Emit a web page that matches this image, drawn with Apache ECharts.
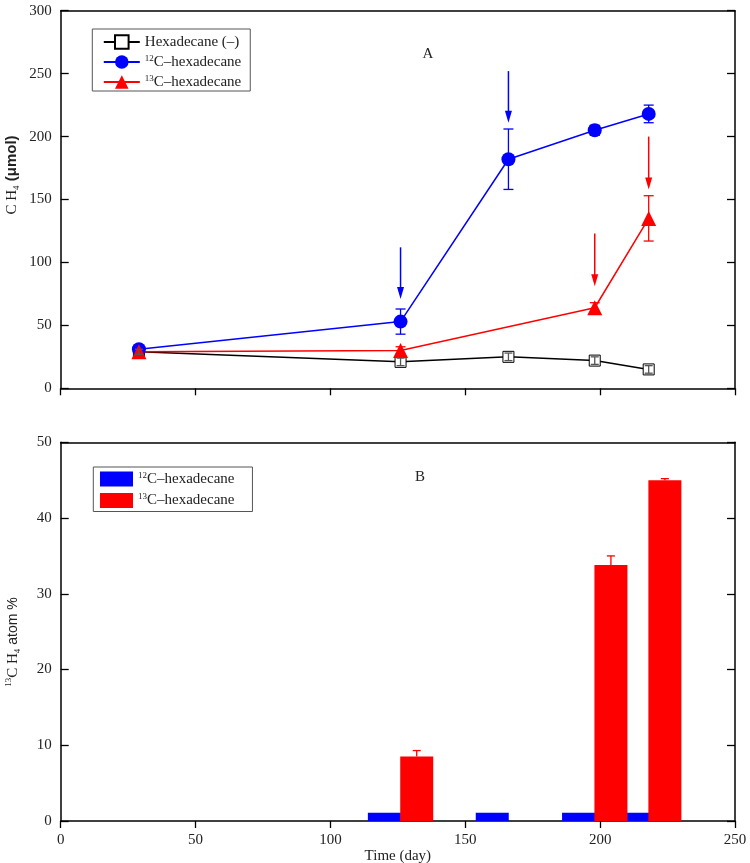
<!DOCTYPE html>
<html><head><meta charset="utf-8">
<script src="https://cdn.jsdelivr.net/npm/echarts@6/dist/echarts.min.js"></script>
<style>html,body{margin:0;padding:0;background:#fff}#c{width:750px;height:863px}</style>
</head><body><div id="c"></div>
<script>
// ---------- data (panel A) ----------
const daysA = [29, 126, 166, 198, 218];
const hexNeg = [29, 21, 25, 22, 15];
const hexNegErr = [2, 3, 3, 3, 3];
const c12 = [31, 53, 182, 205, 218];
const c12Err = [2, 10, 24, 4, 7];
const daysC13 = [29, 126, 198, 218];
const c13 = [29, 30, 64, 135];
const c13Err = [2, 3, 4, 18];
// arrows: [day, start value, end value]
const arrowsBlue = [[126, 112, 71], [166, 252, 211]];
const arrowsRed = [[198, 123, 81], [218, 200, 158]];
// ---------- data (panel B) ----------
const bar12Days = [120, 160, 192, 212];
const bar12 = [1.1, 1.1, 1.1, 1.1];
const bar13Days = [132, 204, 224];
const bar13 = [8.5, 33.8, 45.0];
const bar13Err = [0.8, 1.2, 0.2];
// ticks
const xTicks = {min: 0, max: 250, interval: 50};
const yTicksA = {min: 0, max: 300, interval: 50};
const yTicksB = {min: 0, max: 50, interval: 10};

const SERIF = 'Liberation Serif';
const SANS = 'Liberation Sans';
const BLUE = '#0000ff', RED = '#ff0000', BLACK = '#000000';

function errRender(color, cap, topOnly) {
  return function (params, api) {
    const x = api.value(0), lo = api.value(1), hi = api.value(2);
    const p1 = api.coord([x, lo]), p2 = api.coord([x, hi]);
    const st = {stroke: color, lineWidth: 1.3};
    const ch = [
      {type: 'line', shape: {x1: p1[0], y1: p1[1], x2: p2[0], y2: p2[1]}, style: st},
      {type: 'line', shape: {x1: p2[0] - cap, y1: p2[1], x2: p2[0] + cap, y2: p2[1]}, style: st}
    ];
    if (!topOnly) ch.push({type: 'line', shape: {x1: p1[0] - cap, y1: p1[1], x2: p1[0] + cap, y2: p1[1]}, style: st});
    return {type: 'group', children: ch};
  };
}
function arrowRender(color) {
  return function (params, api) {
    const x = api.value(0);
    const a = api.coord([x, api.value(1)]), b = api.coord([x, api.value(2)]);
    const head = 12, hw = 3.5;
    return {type: 'group', children: [
      {type: 'line', shape: {x1: a[0], y1: a[1], x2: b[0], y2: b[1] - head + 1}, style: {stroke: color, lineWidth: 1.5}},
      {type: 'polygon', shape: {points: [[b[0] - hw, b[1] - head], [b[0] + hw, b[1] - head], [b[0], b[1]]]}, style: {fill: color}}
    ]};
  };
}

const axisLineStyle = {color: '#000', width: 1.5};
function xAxisDef(grid, showLabel, extra) {
  return Object.assign({
    type: 'value', gridIndex: grid, min: xTicks.min, max: xTicks.max, interval: xTicks.interval,
    axisLine: {show: true, onZero: false, lineStyle: axisLineStyle},
    axisTick: {show: true, inside: false, length: 7, lineStyle: {color: '#000', width: 1.3}},
    axisLabel: {show: showLabel, margin: 12, color: '#222', fontFamily: SERIF, fontSize: 15},
    splitLine: {show: false}
  }, extra || {});
}
function yAxisDef(grid, t, pos, showLabel) {
  return {
    type: 'value', gridIndex: grid, position: pos, min: t.min, max: t.max, interval: t.interval,
    axisLine: {show: true, onZero: false, lineStyle: axisLineStyle},
    axisTick: {show: true, inside: true, length: 8, lineStyle: {color: '#000', width: 1.3}},
    axisLabel: {show: showLabel, margin: 9, color: '#222', fontFamily: SERIF, fontSize: 15},
    splitLine: {show: false}
  };
}

const legendText = {
  'Hexadecane (-)': 'Hexadecane (–)',
  'c12': '{sup|12}C–hexadecane',
  'c13': '{sup|13}C–hexadecane',
  'bar12': '{sup|12}C–hexadecane',
  'bar13': '{sup|13}C–hexadecane'
};
const legendTextStyle = {
  color: '#222', fontFamily: SERIF, fontSize: 15, lineHeight: 16,
  rich: {sup: {fontFamily: SERIF, fontSize: 9, verticalAlign: 'top', lineHeight: 16, color: '#222'}}
};

const chart = echarts.init(document.getElementById('c'), null, {renderer: 'canvas'});
chart.setOption({
  animation: false,
  backgroundColor: '#fff',
  grid: [
    {left: 60.7, right: 15, top: 10.7, height: 377.6, outerBoundsMode: 'none', containLabel: false},
    {left: 60.7, right: 15, top: 442.3, height: 378.7, outerBoundsMode: 'none', containLabel: false}
  ],
  xAxis: [
    xAxisDef(0, false),
    xAxisDef(0, false, {position: 'top', axisTick: {show: false}}),
    xAxisDef(1, true, {name: 'Time (day)', nameLocation: 'middle', nameGap: 27,
      nameTextStyle: {color: '#222', fontFamily: SERIF, fontSize: 15}}),
    xAxisDef(1, false, {position: 'top', axisTick: {show: false}})
  ],
  yAxis: [
    yAxisDef(0, yTicksA, 'left', true),
    yAxisDef(0, yTicksA, 'right', false),
    yAxisDef(1, yTicksB, 'left', true),
    yAxisDef(1, yTicksB, 'right', false)
  ],
  legend: [
    {
      data: ['Hexadecane (-)', 'c12', 'c13'], orient: 'vertical', left: 92.3, top: 29,
      borderColor: '#555', borderWidth: 1, padding: [5, 9, 1, 10.5], itemGap: 4,
      itemWidth: 36, itemHeight: 17, itemTextGap: 7, backgroundColor: '#fff',
      formatter: n => legendText[n], textStyle: legendTextStyle, selectedMode: false
    },
    {
      data: [{name: 'bar12', icon: 'rect'}, {name: 'bar13', icon: 'rect'}], orient: 'vertical', left: 93.3, top: 467,
      borderColor: '#555', borderWidth: 1, padding: [4, 18, 3, 6.7], itemGap: 5.5,
      itemWidth: 33, itemHeight: 15, itemTextGap: 5, backgroundColor: '#fff',
      formatter: n => legendText[n], textStyle: legendTextStyle, selectedMode: false
    }
  ],
  graphic: [
    {type: 'text', x: 428, y: 54, style: {text: 'A', fontFamily: SERIF, fontSize: 15, fill: '#222', align: 'center', verticalAlign: 'middle'}},
    {type: 'text', x: 420, y: 477, style: {text: 'B', fontFamily: SERIF, fontSize: 15, fill: '#222', align: 'center', verticalAlign: 'middle'}},
    {type: 'text', x: 12, y: 175, rotation: Math.PI / 2, style: {
      text: '{n|C H}{sub|4}{b| (μmol)}', align: 'center', verticalAlign: 'middle',
      rich: {
        n: {fontFamily: SERIF, fontSize: 15, fill: '#222', lineHeight: 18},
        sub: {fontFamily: SERIF, fontSize: 9, fill: '#222', verticalAlign: 'bottom', lineHeight: 18},
        b: {fontFamily: SANS, fontSize: 15, fontWeight: 'bold', fill: '#222', lineHeight: 18}
      }}},
    {type: 'text', x: 13, y: 642, rotation: Math.PI / 2, style: {
      text: '{sup|13}{n|C H}{sub|4}{s| atom %}', align: 'center', verticalAlign: 'middle',
      rich: {
        sup: {fontFamily: SERIF, fontSize: 9, fill: '#222', verticalAlign: 'top', lineHeight: 18},
        n: {fontFamily: SERIF, fontSize: 15, fill: '#222', lineHeight: 18},
        sub: {fontFamily: SERIF, fontSize: 9, fill: '#222', verticalAlign: 'bottom', lineHeight: 18},
        s: {fontFamily: SANS, fontSize: 14, fill: '#222', lineHeight: 18}
      }}}
  ],
  series: [
    {
      name: 'Hexadecane (-)', type: 'line', xAxisIndex: 0, yAxisIndex: 0,
      data: daysA.map((d, i) => [d, hexNeg[i]]),
      symbol: 'rect', symbolSize: 11, showAllSymbol: true, z: 3,
      lineStyle: {color: BLACK, width: 1.5},
      itemStyle: {color: '#fff', borderColor: '#000', borderWidth: 1}
    },
    {
      type: 'custom', xAxisIndex: 0, yAxisIndex: 0, z: 4, silent: true,
      renderItem: errRender('#555', 4, false),
      data: daysA.map((d, i) => [d, hexNeg[i] - hexNegErr[i], hexNeg[i] + hexNegErr[i]])
    },
    {
      type: 'custom', xAxisIndex: 0, yAxisIndex: 0, z: 2, silent: true,
      renderItem: errRender(BLUE, 5, false),
      data: daysA.map((d, i) => [d, c12[i] - c12Err[i], c12[i] + c12Err[i]])
    },
    {
      name: 'c12', type: 'line', xAxisIndex: 0, yAxisIndex: 0,
      data: daysA.map((d, i) => [d, c12[i]]),
      symbol: 'circle', symbolSize: 14, z: 3,
      lineStyle: {color: BLUE, width: 1.5},
      itemStyle: {color: BLUE, borderColor: BLUE, borderWidth: 0}
    },
    {
      type: 'custom', xAxisIndex: 0, yAxisIndex: 0, z: 2, silent: true,
      renderItem: errRender(RED, 5, false),
      data: daysC13.map((d, i) => [d, c13[i] - c13Err[i], c13[i] + c13Err[i]])
    },
    {
      name: 'c13', type: 'line', xAxisIndex: 0, yAxisIndex: 0,
      data: daysC13.map((d, i) => [d, c13[i]]),
      symbol: 'triangle', symbolSize: 15, z: 3,
      lineStyle: {color: RED, width: 1.5},
      itemStyle: {color: RED, borderColor: RED, borderWidth: 0}
    },
    {
      type: 'custom', xAxisIndex: 0, yAxisIndex: 0, z: 5, silent: true,
      renderItem: arrowRender(BLUE), data: arrowsBlue
    },
    {
      type: 'custom', xAxisIndex: 0, yAxisIndex: 0, z: 5, silent: true,
      renderItem: arrowRender(RED), data: arrowsRed
    },
    {
      name: 'bar12', type: 'bar', xAxisIndex: 2, yAxisIndex: 2,
      data: bar12Days.map((d, i) => [d, bar12[i]]),
      barWidth: 33, barGap: '-100%', z: 2,
      itemStyle: {color: BLUE}
    },
    {
      name: 'bar13', type: 'bar', xAxisIndex: 2, yAxisIndex: 2,
      data: bar13Days.map((d, i) => [d, bar13[i]]),
      barWidth: 33, barGap: '-100%', z: 3,
      itemStyle: {color: RED}
    },
    {
      type: 'custom', xAxisIndex: 2, yAxisIndex: 2, z: 4, silent: true,
      renderItem: errRender(RED, 4, true),
      data: bar13Days.map((d, i) => [d, bar13[i], bar13[i] + bar13Err[i]])
    }
  ]
});
</script>
</body></html>
